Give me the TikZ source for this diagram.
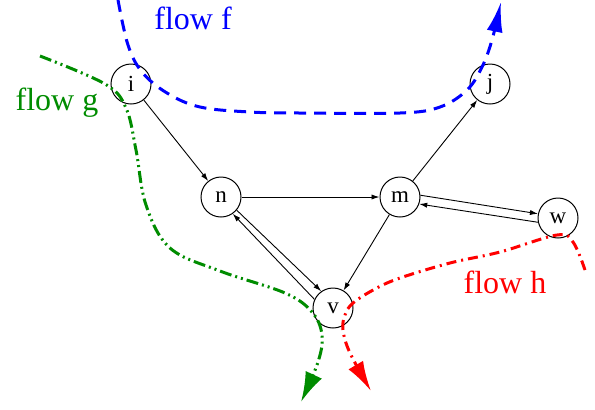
\documentclass[tikz,border=0pt]{standalone}
\usepackage{fontspec}
\setmainfont{Liberation Serif}
\usetikzlibrary{positioning, arrows.meta}
\definecolor{flowgreen}{RGB}{0,140,0}
\tikzset{
    vert/.style={circle, draw=black, line width=0.5pt, minimum size=20pt, inner sep=0pt, font=\fontsize{11.5}{12}\selectfont},
    link/.style={-{Latex[length=4pt,width=2.6pt]}, line width=0.45pt},
    flowf/.style={blue, line width=1.5pt, dash pattern=on 6pt off 4pt, -{Latex[length=15pt,width=8pt]}},
    flowg/.style={flowgreen, line width=1.5pt, dash pattern=on 6pt off 2pt on 1pt off 2pt on 1pt off 2pt, -{Latex[length=15pt,width=9pt]}},
    flowh/.style={red, line width=1.5pt, dash pattern=on 5pt off 2.5pt on 1pt off 2.5pt, -{Latex[length=15pt,width=8.5pt]}},
    flowlabel/.style={font=\fontsize{16}{18}\selectfont, inner sep=0pt},
}
\begin{document}
\begin{tikzpicture}[x=0.5pt, y=-0.5pt, on grid]
    \useasboundingbox (0,0) rectangle (595,409);
    \node [vert] (i) at (131,84) {i};
    \node [vert] (n) [below right=56.5pt and 45pt of i] {n};
    \node [vert] (m) [right=89.5pt of n] {m};
    \node [vert] (j) [above right=56.5pt and 45pt of m] {j};
    \node [vert] (v) [below left=55.5pt and 33.5pt of m] {v};
    \node [vert] (w) [below right=10.5pt and 79pt of m] {w};
    \draw[link] (i) -- (n);
    \draw[link] (n) -- (m);
    \draw[link] (m) -- (j);
    \draw[link] (m) -- (v);
    \draw[link] (n.-40) -- (v.125);
    \draw[link] (v.155) -- (n.-55);
    \draw[link] (m.5) -- (w.168);
    \draw[link] (w.192) -- (m.-20);
    % flows
    \draw[flowf] plot[smooth, tension=0.6] coordinates {(118,0) (128,45) (142,72) (167,93) (200,107) (250,112) (300,113) (400,113) (440,107) (467,90) (482,67) (492,40) (501,2)};
    \draw[flowg] plot[smooth, tension=0.6] coordinates {(40,56) (105,84) (126,108) (136,150) (146,205) (170,248) (220,271) (285,293) (312,312) (322,335) (318,362) (301,402)};
    \draw[flowh] plot[smooth, tension=0.6] coordinates {(585,270) (573,242) (557,235) (500,252) (450,263) (400,278) (375,289) (353,303) (345,315) (343,330) (350,353) (371,391)};
    \node [flowlabel, text=blue] (lblf) at (193,18) {flow f};
    \node [flowlabel, text=flowgreen] (lblg) at (57,103) {flow g};
    \node [flowlabel, text=red] (lblh) at (505,282) {flow h};
\end{tikzpicture}
\end{document}
